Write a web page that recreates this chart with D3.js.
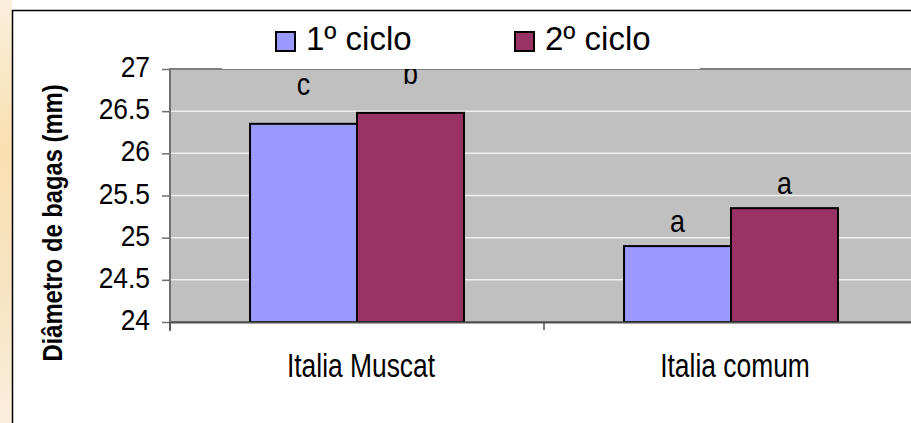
<!DOCTYPE html>
<html>
<head>
<meta charset="utf-8">
<script src="https://cdn.jsdelivr.net/npm/d3@7"></script>
<style>
    html, body { margin: 0; padding: 0; background: #ffffff; }
    svg { display: block; }
    .font { font-family: "Liberation Sans", Arial, sans-serif; fill: #000000; }
</style>
</head>
<body>
<svg id="chart" width="911" height="423"></svg>
<script>
// data
const CATEGORIES = ["Italia Muscat", "Italia comum"];
const SERIES = ["1º ciclo", "2º ciclo"];
const CICLO_1 = [26.35, 24.9];
const CICLO_2 = [26.48, 25.35];
const LETTERS_1 = ["c", "a"];
const LETTERS_2 = ["b", "a"];
const Y_TICKS = [24, 24.5, 25, 25.5, 26, 26.5, 27];
const Y_AXIS_LABEL = "Diâmetro de bagas (mm)";

const SVG_WIDTH = 911;
const SVG_HEIGHT = 423;
const COLORS = ["#9999ff", "#993366"];
const PLOT_LEFT = 170;
const PLOT_RIGHT = 918;
const PLOT_TOP = 69;
const PLOT_BOTTOM = 322;

var rows = CATEGORIES.map(function(c, i) {
    return {
        category: c,
        values: [
            {series: SERIES[0], value: CICLO_1[i], letter: LETTERS_1[i]},
            {series: SERIES[1], value: CICLO_2[i], letter: LETTERS_2[i]}
        ]
    };
});

var svg = d3.select("#chart");

// slide background strip on the left
var defs = svg.append("defs");
var grad = defs.append("linearGradient")
    .attr("id", "slideBg")
    .attr("x1", 0).attr("y1", 0).attr("x2", 0).attr("y2", 1);
grad.append("stop").attr("offset", "0%").attr("stop-color", "#fbeedd");
grad.append("stop").attr("offset", "35%").attr("stop-color", "#f9e0b0");
grad.append("stop").attr("offset", "70%").attr("stop-color", "#f8e4c4");
grad.append("stop").attr("offset", "100%").attr("stop-color", "#fbeedd");
svg.append("rect")
    .attr("x", 0).attr("y", 0)
    .attr("width", 12).attr("height", SVG_HEIGHT)
    .attr("fill", "url(#slideBg)");

// chart frame
svg.append("rect")
    .attr("x", 12.5).attr("y", 10.5)
    .attr("width", SVG_WIDTH + 20).attr("height", SVG_HEIGHT + 20)
    .attr("fill", "#ffffff")
    .attr("stroke", "#000000")
    .attr("stroke-width", 1.5);

var yScale = d3.scaleLinear()
    .domain([24, 27])
    .range([PLOT_BOTTOM, PLOT_TOP]);

var x0 = d3.scaleBand()
    .domain(CATEGORIES)
    .range([PLOT_LEFT, PLOT_RIGHT])
    .paddingInner(0.428)
    .paddingOuter(0.214);

var x1 = d3.scaleBand()
    .domain(SERIES)
    .range([0, x0.bandwidth()]);

var color = d3.scaleOrdinal()
    .domain(SERIES)
    .range(COLORS);

// plot area
svg.append("rect")
    .attr("x", PLOT_LEFT).attr("y", PLOT_TOP)
    .attr("width", PLOT_RIGHT - PLOT_LEFT)
    .attr("height", PLOT_BOTTOM - PLOT_TOP)
    .attr("fill", "#c0c0c0")
    .attr("stroke", "#808080")
    .attr("stroke-width", 2);

// gridlines
svg.append("g")
    .selectAll("line")
    .data(Y_TICKS.slice(1, -1))
    .enter()
    .append("line")
    .attr("x1", PLOT_LEFT)
    .attr("x2", PLOT_RIGHT)
    .attr("y1", function(d) { return yScale(d); })
    .attr("y2", function(d) { return yScale(d); })
    .attr("stroke", "#eeeeee")
    .attr("stroke-width", 1.5);

// bars
var groups = svg.append("g")
    .selectAll("g")
    .data(rows)
    .enter()
    .append("g")
    .attr("transform", function(d) {
        return "translate(" + x0(d.category) + ",0)";
    });

groups.selectAll("rect")
    .data(function(d) { return d.values; })
    .enter()
    .append("rect")
    .attr("x", function(d) { return x1(d.series); })
    .attr("y", function(d) { return yScale(d.value); })
    .attr("width", x1.bandwidth())
    .attr("height", function(d) { return PLOT_BOTTOM - yScale(d.value); })
    .attr("fill", function(d) { return color(d.series); })
    .attr("stroke", "#000000")
    .attr("stroke-width", 2);

// significance letters (first group sits higher above its bars)
groups.each(function(g, gi) {
    var lift = gi === 0 ? 29 : 14.5;
    d3.select(this).selectAll("text.letter")
        .data(g.values)
        .enter()
        .append("text")
        .classed("letter font", true)
        .attr("text-anchor", "middle")
        .attr("font-size", 32)
        .attr("transform", function(d) {
            var cx = x1(d.series) + x1.bandwidth() / 2;
            return "translate(" + cx + "," + (yScale(d.value) - lift) + ") scale(0.84,1)";
        })
        .text(function(d) { return d.letter; });
});

// y axis
var yAxis = d3.axisLeft(yScale)
    .tickValues(Y_TICKS)
    .tickSize(8)
    .tickSizeOuter(0)
    .tickPadding(12)
    .tickFormat(function(d) { return d; });
var yAxisGroup = svg.append("g")
    .attr("transform", "translate(" + PLOT_LEFT + ",0)")
    .call(yAxis);
yAxisGroup.select(".domain")
    .attr("stroke", "#707070")
    .attr("stroke-width", 2)
    .attr("d", "M0," + PLOT_TOP + "V" + (PLOT_BOTTOM + 9));
yAxisGroup.selectAll(".tick line")
    .attr("stroke", "#707070")
    .attr("stroke-width", 1.5);
yAxisGroup.selectAll(".tick text")
    .classed("font", true)
    .attr("font-size", 30)
    .attr("dy", "0.25em")
    .attr("x", -20 / 0.88)
    .attr("transform", "scale(0.88,1)");

// x axis
var xAxis = d3.axisBottom(x0)
    .tickSize(0)
    .tickSizeOuter(0)
    .tickPadding(0);
var xAxisGroup = svg.append("g")
    .attr("transform", "translate(0," + PLOT_BOTTOM + ")")
    .call(xAxis);
xAxisGroup.select(".domain")
    .attr("stroke", "#505050")
    .attr("stroke-width", 2);
xAxisGroup.selectAll(".tick text")
    .classed("font", true)
    .attr("font-size", 33)
    .attr("y", 0)
    .attr("dy", 0)
    .attr("transform", "translate(4,55) scale(0.8,1)");

// category boundary ticks
var boundaries = d3.range(CATEGORIES.length + 1).map(function(i) {
    return PLOT_LEFT + i * x0.step();
});
xAxisGroup.selectAll("line.boundary")
    .data(boundaries)
    .enter()
    .append("line")
    .classed("boundary", true)
    .attr("x1", function(d) { return d; })
    .attr("x2", function(d) { return d; })
    .attr("y1", 0)
    .attr("y2", 8)
    .attr("stroke", "#505050")
    .attr("stroke-width", 1.5);

// y axis title
svg.append("text")
    .classed("font", true)
    .attr("font-size", 27)
    .attr("font-weight", "bold")
    .attr("text-anchor", "middle")
    .attr("transform", "translate(62,223) rotate(-90) scale(0.88,1)")
    .text(Y_AXIS_LABEL);

// legend box covers the top of the plot area
svg.append("rect")
    .attr("x", 222).attr("y", 14)
    .attr("width", 478).attr("height", 55)
    .attr("fill", "#ffffff");

var legendX = [276, 515];
var legend = svg.append("g")
    .selectAll("g")
    .data(SERIES)
    .enter()
    .append("g")
    .attr("transform", function(d, i) {
        return "translate(" + legendX[i] + ",32)";
    });
legend.append("rect")
    .attr("width", 19)
    .attr("height", 19)
    .attr("fill", function(d) { return color(d); })
    .attr("stroke", "#000000")
    .attr("stroke-width", 2);
legend.append("text")
    .classed("font", true)
    .attr("x", 30)
    .attr("y", 18)
    .attr("font-size", 33)
    .text(function(d) { return d; });
</script>
</body>
</html>
